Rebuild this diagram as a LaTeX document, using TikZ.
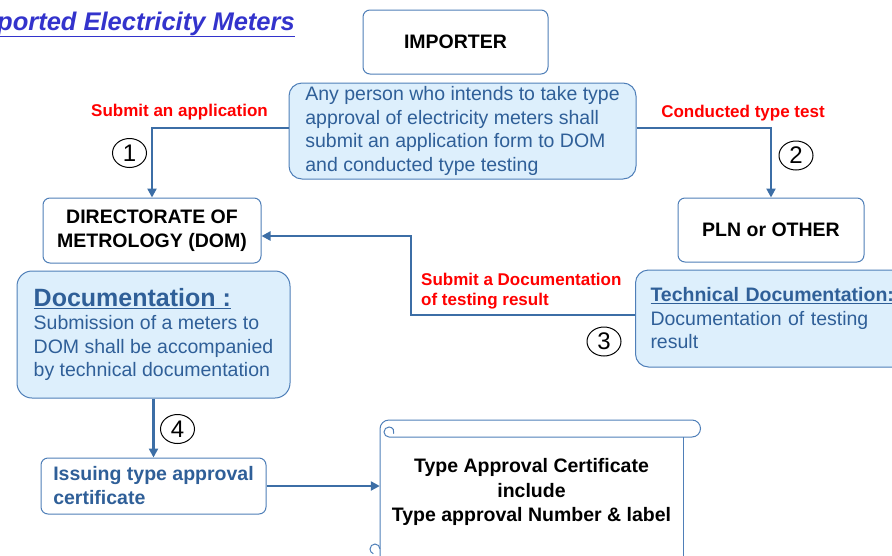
\documentclass[tikz,border=0pt]{standalone}
\usepackage{fontspec}
\setmainfont{Liberation Sans}
\usetikzlibrary{arrows.meta,shapes.geometric}
\definecolor{DomLine}{HTML}{3C6EA6}
\definecolor{DomEdge}{HTML}{4F7FB8}
\definecolor{DomSoft}{HTML}{DDEFFC}
\definecolor{DomText}{HTML}{2F5F98}
\definecolor{DomTitle}{HTML}{3333CC}
\definecolor{DomRed}{HTML}{FF0000}

\begin{document}
\begin{tikzpicture}[x=1pt, y=-1pt,
  font=\fontsize{19.5}{23.5}\selectfont,
  whitebox/.style={draw=DomEdge, fill=white, line width=1pt, rounded corners=7pt, align=center, font=\fontsize{19.5}{23.5}\selectfont\bfseries},
  softbox/.style={draw=DomEdge, fill=DomSoft, line width=1pt, rounded corners=13pt, align=left, text=DomText},
  conn/.style={draw=DomLine, line width=2.8pt, -{Triangle[length=9pt, width=9pt]}},
  tag/.style={text=DomRed, inner sep=0pt, align=left, font=\fontsize{17}{19.5}\selectfont\bfseries},
  numtag/.style={ellipse, draw, line width=1pt, inner sep=0pt, minimum width=34pt, minimum height=29pt, font=\fontsize{24}{26}\selectfont},
  scrollline/.style={draw=DomEdge, line width=1pt}
]
\useasboundingbox (0,0) rectangle (892,555);
\clip (0,0) rectangle (892,555);

\node[anchor=base east, inner sep=0pt, text=DomTitle, font=\fontsize{25.5}{28}\selectfont\bfseries\itshape] (title) at (295,30) {\underline{ported Electricity Meters}};

\node[whitebox, minimum width=185pt, minimum height=64pt] (imp) at (455.5,42) {IMPORTER};
\node[softbox, minimum width=347pt, minimum height=96pt] (info) at (462.5,131) {Any person who intends to take type\\approval of electricity meters shall\\submit an application form to DOM\\and conducted type testing};

\node[whitebox, minimum width=218pt, minimum height=65pt] (dom) at (152,230.5) {DIRECTORATE OF\\METROLOGY (DOM)};
\node[whitebox, minimum width=186pt, minimum height=64pt] (pln) at (771,230) {PLN or OTHER};

\node[softbox, rounded corners=15pt, minimum width=273pt, minimum height=127pt] (doc) at (153.5,334.5) {{\fontsize{25}{28}\selectfont\bfseries\underline{Documentation :}}\\Submission of a meters to\\DOM shall be accompanied\\by technical documentation};
\node[softbox, anchor=west, text width=290pt, inner xsep=15pt, minimum height=97pt] (tech) at (635,318.5) {\textbf{\underline{Technical Documentation:}}\\Documentation of testing\\result};

\node[whitebox, text=DomText, align=left, minimum width=225pt, minimum height=56pt, font=\fontsize{19.5}{24}\selectfont\bfseries] (issue) at (153.5,486) {Issuing type approval\\certificate};

\draw[scrollline] (380,556) -- (380,429) arc[start angle=180, end angle=270, radius=9] -- (692,420) arc[start angle=270, end angle=450, radius=8.5] -- (389,437) arc[start angle=90, end angle=380, radius=5];
\draw[scrollline] (683,437) -- (683,556);
\draw[scrollline] (380,549) arc[start angle=0, end angle=-250, radius=5];
\node[font=\fontsize{19.5}{24.5}\selectfont\bfseries, align=center, minimum width=303pt, inner sep=0pt] (cert) at (531.5,492) {Type Approval Certificate\\include\\Type approval Number \& label};

\node[tag, anchor=base] (lab1) at (179.5,116) {Submit an application};
\node[tag, anchor=base] (lab2) at (743,117) {Conducted type test};
\node[tag, anchor=west] (lab3) at (421,291) {Submit a Documentation\\of testing result};

\foreach \i/\cx/\cy in {1/129.5/153, 2/796/155.5, 3/604/341.5, 4/177.5/429}
  \node[numtag] (n\i) at (\cx,\cy) {\i};

\coordinate (bend) at (411,0);
\coordinate (domin) at ([yshift=-5.5pt]dom.east);
\coordinate (techout) at ([yshift=3.5pt]tech.west);
\draw[conn] ([yshift=3pt]info.west) -| (dom.north);
\draw[conn] ([yshift=3pt]info.east) -| (pln.north);
\draw[conn] (techout) -- (techout -| bend) |- (domin);
\draw[conn] (doc.south) -- (issue.north);
\draw[conn] (issue.east) -- (issue.east -| cert.west);
\end{tikzpicture}
\end{document}
